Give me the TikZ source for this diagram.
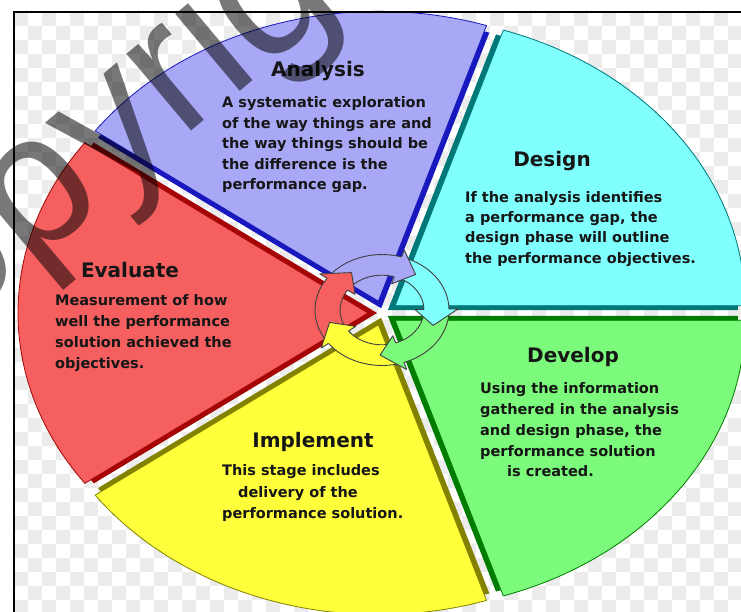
\documentclass[tikz,border=0pt]{standalone}
\usepackage{fontspec}
\setmainfont{DejaVu Sans}
\newfontfamily\markfont{Liberation Sans}
\definecolor{anaL}{RGB}{168,168,246}
\definecolor{anaD}{RGB}{24,24,190}
\definecolor{desL}{RGB}{128,255,255}
\definecolor{desD}{RGB}{0,120,120}
\definecolor{devL}{RGB}{124,250,124}
\definecolor{devD}{RGB}{0,125,0}
\definecolor{impL}{RGB}{255,255,60}
\definecolor{impD}{RGB}{130,130,0}
\definecolor{evaL}{RGB}{245,95,95}
\definecolor{evaD}{RGB}{165,5,5}
\definecolor{chk}{RGB}{236,236,236}
\definecolor{ink}{RGB}{22,22,22}
\begin{document}
\begin{tikzpicture}[x=1pt,y=1pt,
  every node/.style={inner sep=0pt},
  heading/.style={font=\fontsize{20}{24}\selectfont\bfseries, text=ink, anchor=base},
  blurb/.style={font=\fontsize{14.5}{20}\selectfont\bfseries, text=ink, anchor=base west},
  slicerim/.style={line width=0.8pt},
  ringarrow/.style={line width=0.9pt, draw=black!75, line join=round},
]
\useasboundingbox (0,0) rectangle (741,-612);
\fill[white] (0,0) rectangle (741,-612);

% checkerboard backdrop inside the frame
\begin{scope}
  \clip (14,-12) rectangle (741,-612);
  \foreach \i in {0,...,52}{
    \foreach \j in {0,...,21}{
      \pgfmathtruncatemacro\chkrow{2*\j+mod(\i,2)}
      \fill[chk] (14+14*\i,-12-14*\chkrow) rectangle ++(14,-14);
    }}
\end{scope}

% exploded pie: dark copy sits a little closer to the hub than the light slice
\coordinate (hub) at (383,-313);
\begin{scope}[shift={(hub)}, yscale=0.828]
  \foreach \sa/\lc/\dc in {0/desL/desD, 72/anaL/anaD, 144/evaL/evaD, 216/impL/impD, 288/devL/devD}{
    \pgfmathsetmacro\sliceMid{\sa+36}
    \pgfmathsetmacro\sliceEnd{\sa+72}
    \fill[\dc] (\sliceMid:6) -- ++(\sa:350) arc[start angle=\sa, end angle=\sliceEnd, radius=350] -- cycle;
  }
  \foreach \sa/\lc/\dc in {0/desL/desD, 72/anaL/anaD, 144/evaL/evaD, 216/impL/impD, 288/devL/devD}{
    \pgfmathsetmacro\sliceMid{\sa+36}
    \pgfmathsetmacro\sliceEnd{\sa+72}
    \filldraw[fill=\lc, draw=\dc, slicerim] (\sliceMid:15) -- ++(\sa:350) arc[start angle=\sa, end angle=\sliceEnd, radius=350] -- cycle;
  }
\end{scope}

% cycle of curved arrows around the hub
\coordinate (ringc) at (382,-310);
\begin{scope}[shift={(ringc)}, yscale=0.828]
  \foreach \tip/\ac in {52/anaL, -20/desL, -92/devL, -164/impL, 124/evaL}{
    \pgfmathsetmacro\arrTail{\tip+88}
    \pgfmathsetmacro\arrEnd{\tip+19}
    \filldraw[fill=\ac, ringarrow] (\arrTail:67) arc[start angle=\arrTail, end angle=\arrEnd, radius=67]
      -- (\arrEnd:42) arc[start angle=\arrEnd, end angle=\arrTail, radius=42] -- cycle;
  }
  \foreach \tip/\ac in {52/anaL, -20/desL, -92/devL, -164/impL, 124/evaL}{
    \pgfmathsetmacro\arrBase{\tip+21}
    \filldraw[fill=\ac, ringarrow] (\arrBase:42) -- (\arrBase:33) -- (\tip:54.5) -- (\arrBase:76) -- (\arrBase:67);
  }
\end{scope}

% Analysis
\node[heading] (anaT) at (318,-77) {Analysis};
\node[blurb] (ana1) at (222,-108) {A systematic exploration};
\node[blurb] (ana2) at (222,-128.5) {of the way things are and};
\node[blurb] (ana3) at (222,-149) {the way things should be};
\node[blurb] (ana4) at (222,-169.5) {the difference is the};
\node[blurb] (ana5) at (222,-190) {performance gap.};

% Design
\node[heading] (desT) at (552,-167) {Design};
\node[blurb] (des1) at (465,-203) {If the analysis identifies};
\node[blurb] (des2) at (465,-223) {a performance gap, the};
\node[blurb] (des3) at (465,-243) {design phase will outline};
\node[blurb] (des4) at (465,-263) {the performance objectives.};

% Evaluate
\node[heading] (evaT) at (130,-277) {Evaluate};
\node[blurb] (eva1) at (55,-305) {Measurement of how};
\node[blurb] (eva2) at (55,-326) {well the performance};
\node[blurb] (eva3) at (55,-347) {solution achieved the};
\node[blurb] (eva4) at (55,-368) {objectives.};

% Develop
\node[heading] (devT) at (573,-362) {Develop};
\node[blurb] (dev1) at (480,-393) {Using the information};
\node[blurb] (dev2) at (480,-414) {gathered in the analysis};
\node[blurb] (dev3) at (480,-435) {and design phase, the};
\node[blurb] (dev4) at (480,-456) {performance solution};
\node[blurb] (dev5) at (507,-476) {is created.};

% Implement
\node[heading] (impT) at (313,-447) {Implement};
\node[blurb] (imp1) at (222,-475) {This stage includes};
\node[blurb] (imp2) at (238,-497) {delivery of the};
\node[blurb] (imp3) at (222,-518) {performance solution.};

% frame
\draw[line width=1.5pt] (741,-12) -- (14,-12) -- (14,-612);

% watermark
\node[font=\markfont\fontsize{190}{190}\selectfont, text=black, text opacity=0.53,
      rotate=40, anchor=base west] (mark) at (-158,-425) {Copyright};
\end{tikzpicture}
\end{document}
